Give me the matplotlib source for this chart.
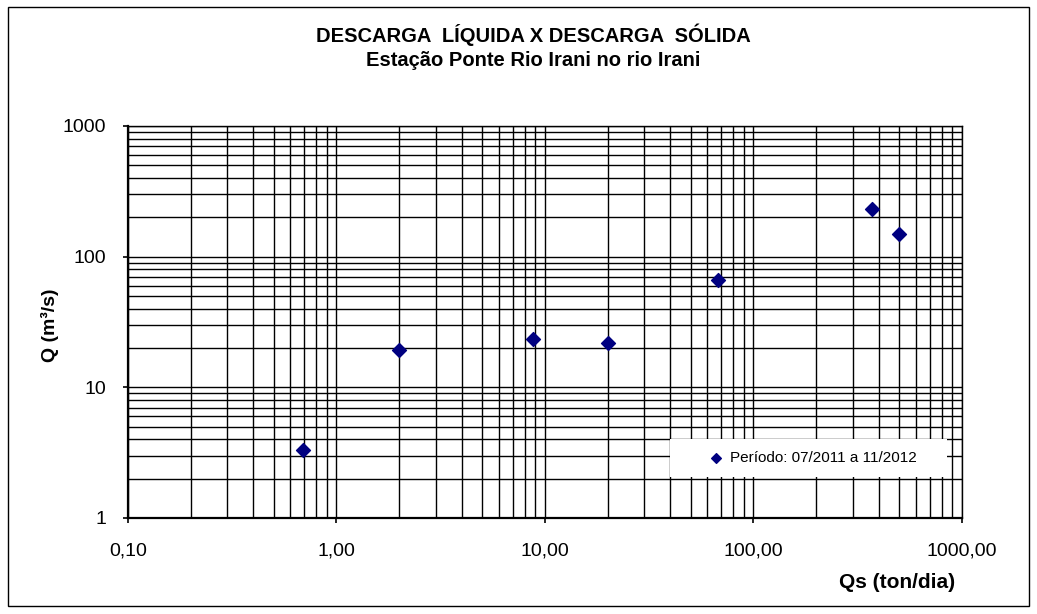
import matplotlib.pyplot as plt
from matplotlib.patches import Rectangle
from matplotlib.ticker import FixedLocator, LogLocator, NullFormatter

plt.rcParams['font.family'] = ['Liberation Sans', 'DejaVu Sans']

# Medições: descarga sólida (ton/dia) x descarga líquida (m³/s)
qs = [0.69, 2.0, 8.8, 20.0, 67.6, 370, 500]
q = [3.33, 19.3, 23.4, 21.9, 66.2, 233, 150]

x_ticks = [0.1, 1, 10, 100, 1000]
x_labels = ['0,10', '1,00', '10,00', '100,00', '1000,00']
y_ticks = [1, 10, 100, 1000]
y_labels = ['1', '10', '100', '1000']

fig = plt.figure(figsize=(10.37, 6.14), dpi=100)
fig.patches.append(Rectangle((0.008, 0.013), 0.984, 0.975, transform=fig.transFigure,
                             fill=False, edgecolor='black', linewidth=1))
ax = fig.add_axes([0.1234, 0.1564, 0.8042, 0.6384])

ax.set_xscale('log')
ax.set_yscale('log')
ax.set_xlim(0.1, 1000)
ax.set_ylim(1, 1000)

ax.xaxis.set_major_locator(FixedLocator(x_ticks))
ax.set_xticklabels(x_labels)
ax.yaxis.set_major_locator(FixedLocator(y_ticks))
ax.set_yticklabels(y_labels)
ax.xaxis.set_minor_locator(LogLocator(base=10, subs=range(2, 10)))
ax.yaxis.set_minor_locator(LogLocator(base=10, subs=range(2, 10)))
ax.xaxis.set_minor_formatter(NullFormatter())
ax.yaxis.set_minor_formatter(NullFormatter())

ax.grid(True, which='both', color='black', linewidth=1.0)
ax.set_axisbelow(True)
ax.tick_params(which='major', direction='out', length=3.5, width=1.2, labelsize=14)
ax.tick_params(axis='y', which='major', pad=12)
ax.tick_params(axis='x', which='major', pad=14)
ax.tick_params(which='minor', length=0)
for side in ['left', 'bottom']:
    ax.spines[side].set_linewidth(1.6)
for side in ['top', 'right']:
    ax.spines[side].set_linewidth(1.0)

ax.scatter(qs, q, marker='D', s=50, color='#000080', zorder=3,
           label='Período: 07/2011 a 11/2012')

# caixa branca da legenda (sem borda), como no Excel
ax.add_patch(Rectangle((0.650, 0.1046), 0.332, 0.097, transform=ax.transAxes,
                       facecolor='white', edgecolor='none', zorder=2.5))
leg = ax.legend(loc='center', bbox_to_anchor=(0.650, 0.1046, 0.332, 0.097),
                frameon=False, fontsize=11, handletextpad=-0.1,
                markerscale=0.7, borderaxespad=0)

fig.text(50 / 1037, 1 - 325 / 614, 'Q (m³/s)', fontsize=14, fontweight='bold',
         rotation=90, ha='center', va='center')
fig.text(897 / 1037, 1 - 582 / 614, 'Qs (ton/dia)', fontsize=15, fontweight='bold',
         ha='center', va='center')

fig.text(533 / 1037, 1 - 35 / 614, 'DESCARGA  LÍQUIDA X DESCARGA  SÓLIDA', fontsize=14.5,
         fontweight='bold', ha='center', va='center')
fig.text(533 / 1037, 1 - 60 / 614, 'Estação Ponte Rio Irani no rio Irani', fontsize=14.5,
         fontweight='bold', ha='center', va='center')

fig.savefig('out.png', dpi=100)
